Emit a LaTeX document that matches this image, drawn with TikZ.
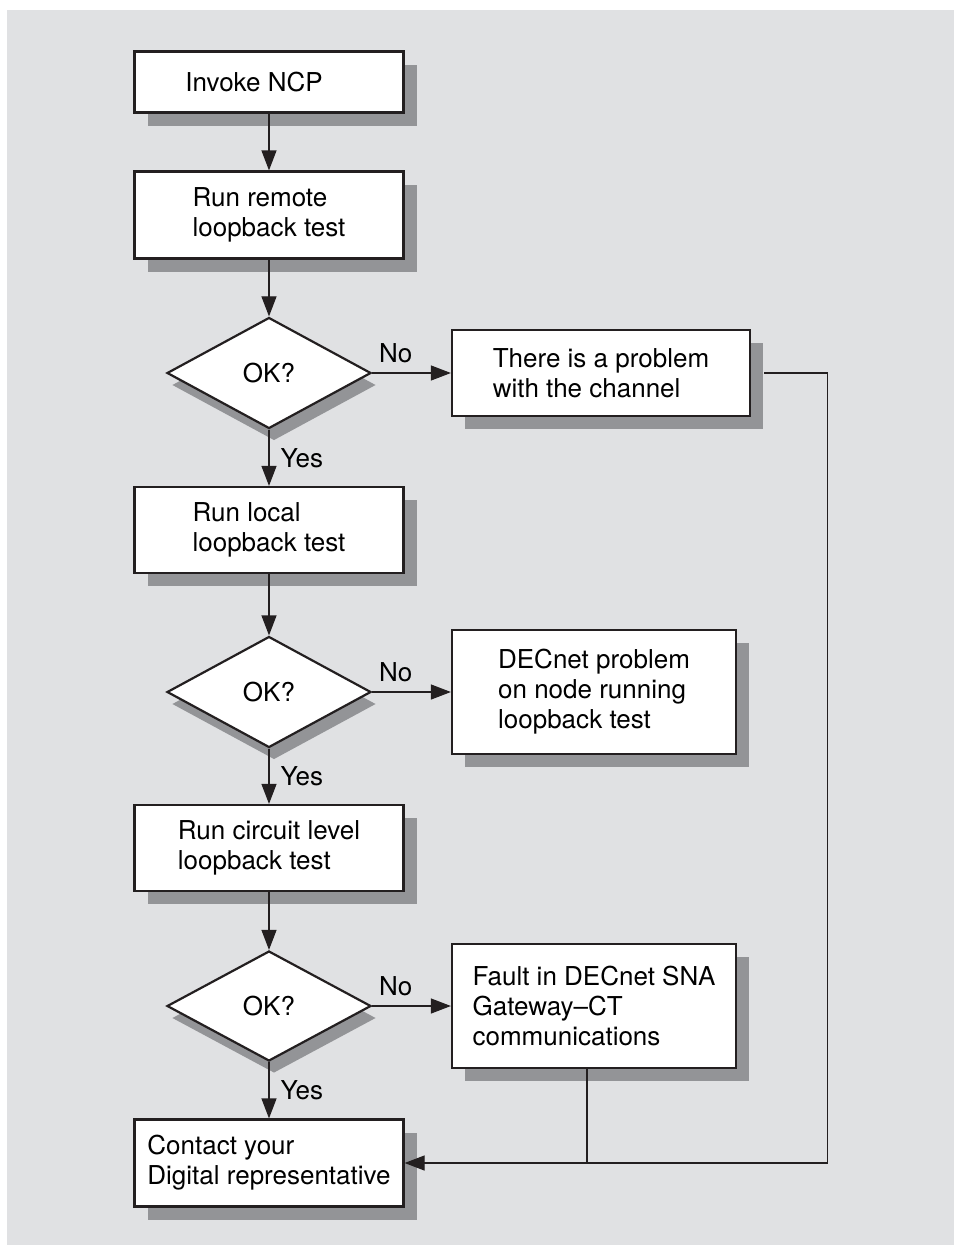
\documentclass[tikz,border=0pt]{standalone}
\usepackage{fontspec}
\setmainfont{TeX Gyre Heros}
\usepackage{xcolor}
\usetikzlibrary{positioning,arrows.meta,shapes.geometric,shadows}
\definecolor{panelgrey}{HTML}{E0E1E3}
\definecolor{shadowgrey}{HTML}{939497}
\definecolor{inkblack}{HTML}{231F20}
\newcommand{\flowfont}{\fontsize{26}{30}\selectfont}

\begin{document}
\begin{tikzpicture}[
  x=1pt, y=-1pt,
  block/.style={rectangle, draw=inkblack, line width=2.2pt, fill=white, minimum width=269pt, minimum height=87pt, align=left, font=\flowfont,
    drop shadow={shadow xshift=13pt, shadow yshift=-13pt, fill=shadowgrey, opacity=1}},
  decision/.style={diamond, draw=inkblack, line width=2.2pt, fill=white, minimum width=204pt, minimum height=111pt, inner sep=0pt, font=\flowfont,
    drop shadow={shadow xshift=5pt, shadow yshift=-12pt, fill=shadowgrey, opacity=1}},
  arrow/.style={-{Triangle[length=20pt, width=15pt]}, line width=1.2pt, draw=inkblack},
  link/.style={line width=1.2pt, draw=inkblack},
  answer/.style={font=\flowfont, inner sep=0pt}
]
  % Panel
  \fill[panelgrey] (7,10) rectangle (954,1245);
  \useasboundingbox (0,0) rectangle (954,1245);

  % Main column
  \node[block, minimum height=61pt] (invoke) at (269,82) {Invoke NCP\hspace*{30pt}};
  \node[block] (remote) at (269,215) {Run remote\\loopback test};
  \node[decision] (ok1) at (269,373) {OK?};
  \node[block, minimum height=86pt] (local) at (269,530) {Run local\\loopback test};
  \node[decision] (ok2) at (269,692) {OK?};
  \node[block, minimum height=86pt] (circuit) at (269,848) {Run circuit level\\loopback test};
  \node[decision, minimum height=110pt] (ok3) at (269,1006) {OK?};
  \node[block] (contact) at (269,1163) {Contact your\\Digital representative};

  % Failure boxes
  \node[block, minimum width=298pt, minimum height=86pt] (channel) at (601,373) {There is a problem\\with the channel};
  \node[block, minimum width=284pt, minimum height=124pt] (decnet) at (594,692) {DECnet problem\\on node running\\loopback test};
  \node[block, minimum width=284pt, minimum height=124pt] (fault) at (594,1006) {Fault in DECnet SNA\\Gateway--CT\\communications};

  \draw[arrow] (invoke) -- (remote);
  \draw[arrow] (remote) -- (ok1);
  \draw[arrow] (ok1) -- node[answer, pos=0.3, above=10pt] {No} (channel);
  \draw[arrow] (ok1) -- node[answer, right=11pt] {Yes} (local);
  \draw[arrow] (local) -- (ok2);
  \draw[arrow] (ok2) -- node[answer, pos=0.3, above=10pt] {No} (decnet);
  \draw[arrow] (ok2) -- node[answer, right=11pt] {Yes} (circuit);
  \draw[arrow] (circuit) -- (ok3);
  \draw[arrow] (ok3) -- node[answer, pos=0.3, above=10pt] {No} (fault);
  \draw[arrow] (ok3) -- node[answer, right=11pt] {Yes} (contact);

  % Return to contact
  \draw[arrow] ([xshift=13pt]channel.east) -- ++(63,0) |- (contact.east);
  \draw[link] ([xshift=-7pt]fault.south) -- ([xshift=-7pt]fault.south |- contact.east);
\end{tikzpicture}
\end{document}
